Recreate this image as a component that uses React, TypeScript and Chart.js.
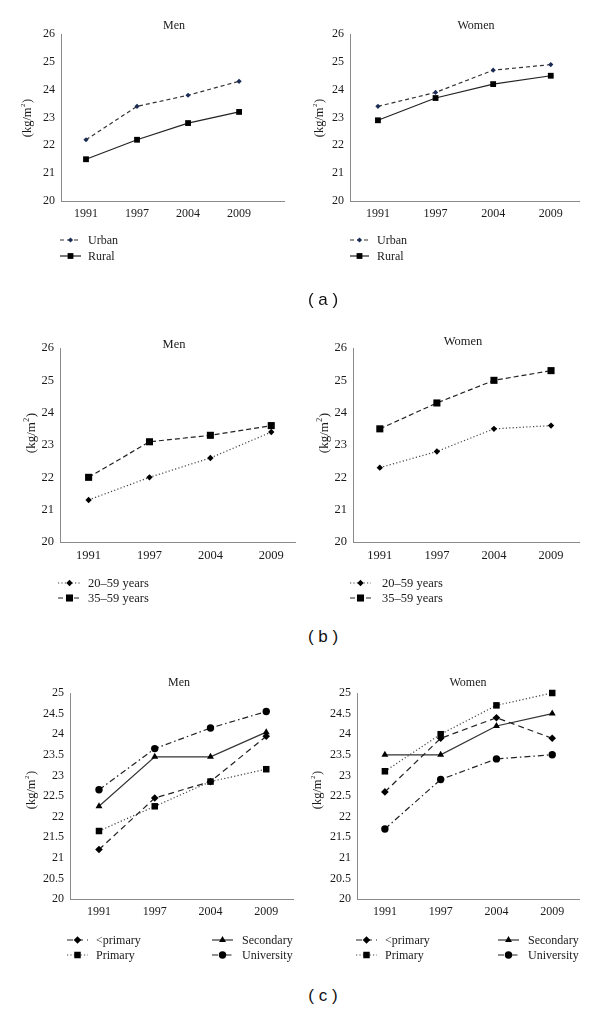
import React, { useEffect, useRef } from 'react';
import { Chart, registerables } from 'chart.js';

Chart.register(...registerables);

// ---------- data ----------
const YEARS = ['1991', '1997', '2004', '2009'];

const menUrban = [22.2, 23.4, 23.8, 24.3];
const menRural = [21.5, 22.2, 22.8, 23.2];
const womenUrban = [23.4, 23.9, 24.7, 24.9];
const womenRural = [22.9, 23.7, 24.2, 24.5];

const men20to59 = [21.3, 22.0, 22.6, 23.4];
const men35to59 = [22.0, 23.1, 23.3, 23.6];
const women20to59 = [22.3, 22.8, 23.5, 23.6];
const women35to59 = [23.5, 24.3, 25.0, 25.3];

const menLessPrimary = [21.2, 22.45, 22.85, 23.95];
const menPrimary = [21.65, 22.25, 22.85, 23.15];
const menSecondary = [22.25, 23.45, 23.45, 24.05];
const menUniversity = [22.65, 23.65, 24.15, 24.55];
const womenLessPrimary = [22.6, 23.9, 24.4, 23.9];
const womenPrimary = [23.1, 24.0, 24.7, 25.0];
const womenSecondary = [23.5, 23.5, 24.2, 24.5];
const womenUniversity = [21.7, 22.9, 23.4, 23.5];

const LABELS_A = ['Urban', 'Rural'];
const LABELS_B = ['20–59 years', '35–59 years'];
const LABELS_C = ['<primary', 'Primary', 'Secondary', 'University'];

// ---------- styles ----------
const SERIF = '"Liberation Serif", "DejaVu Serif", "Times New Roman", serif';
const AXIS_COLOR = '#8a8a8a';
const TEXT_COLOR = '#1a1a1a';

type Style = { dash: number[]; point: string; r: number; color: string; line: string };
const ST_URBAN: Style = { dash: [4, 3], point: 'rectRot', r: 2.6, color: '#1c2d55', line: '#333' };
const ST_RURAL: Style = { dash: [], point: 'rect', r: 4.1, color: '#000', line: '#222' };
const ST_B20: Style = { dash: [1.2, 2.2], point: 'rectRot', r: 3.2, color: '#000', line: '#444' };
const ST_B35: Style = { dash: [5, 3], point: 'rect', r: 5.0, color: '#000', line: '#222' };
const ST_CLP: Style = { dash: [6, 4], point: 'rectRot', r: 3.8, color: '#000', line: '#222' };
const ST_CPR: Style = { dash: [1.2, 2.2], point: 'rect', r: 4.6, color: '#000', line: '#444' };
const ST_CSE: Style = { dash: [], point: 'triangle', r: 4.0, color: '#000', line: '#333' };
const ST_CUN: Style = { dash: [6, 3, 1.5, 3], point: 'circle', r: 3.7, color: '#000', line: '#222' };

type Series = { label: string; data: number[]; style: Style };
type LegendItem = { idx: number; x1: number; x2: number; tx: number; y: number };
type Panel = {
  left: number; top: number; width: number; height: number;
  axisX: number; plotTop: number; plotBottom: number; plotRight: number;
  xMin: number; xMax: number; yMin: number; yMax: number; yStep: number;
  title: string; titleX: number; titleY: number;
  ylX: number; ylY: number;
  fontSize: number;
  series: Series[];
  legend: LegendItem[];
};

const X_AXIS_H = 22;

const panels: Panel[] = [
  {
    left: 0, top: 0, width: 300, height: 280,
    axisX: 61, plotTop: 34, plotBottom: 201, plotRight: 284,
    xMin: -0.49, xMax: 3.88, yMin: 20, yMax: 26, yStep: 1,
    title: 'Men', titleX: 174, titleY: 26, ylX: 28, ylY: 118, fontSize: 12,
    series: [
      { label: LABELS_A[0], data: menUrban, style: ST_URBAN },
      { label: LABELS_A[1], data: menRural, style: ST_RURAL },
    ],
    legend: [
      { idx: 0, x1: 60, x2: 81, tx: 88, y: 240 },
      { idx: 1, x1: 60, x2: 81, tx: 88, y: 256 },
    ],
  },
  {
    left: 300, top: 0, width: 300, height: 280,
    axisX: 350, plotTop: 34, plotBottom: 201, plotRight: 579,
    xMin: -0.485, xMax: 3.49, yMin: 20, yMax: 26, yStep: 1,
    title: 'Women', titleX: 476, titleY: 26, ylX: 320, ylY: 118, fontSize: 12,
    series: [
      { label: LABELS_A[0], data: womenUrban, style: ST_URBAN },
      { label: LABELS_A[1], data: womenRural, style: ST_RURAL },
    ],
    legend: [
      { idx: 0, x1: 350, x2: 369, tx: 377, y: 240 },
      { idx: 1, x1: 350, x2: 369, tx: 377, y: 256 },
    ],
  },
  {
    left: 0, top: 310, width: 300, height: 310,
    axisX: 60, plotTop: 348, plotBottom: 542, plotRight: 297,
    xMin: -0.47, xMax: 3.39, yMin: 20, yMax: 26, yStep: 1,
    title: 'Men', titleX: 174, titleY: 345, ylX: 32, ylY: 433, fontSize: 12.5,
    series: [
      { label: LABELS_B[0], data: men20to59, style: ST_B20 },
      { label: LABELS_B[1], data: men35to59, style: ST_B35 },
    ],
    legend: [
      { idx: 0, x1: 58, x2: 81, tx: 88, y: 583 },
      { idx: 1, x1: 58, x2: 81, tx: 88, y: 598 },
    ],
  },
  {
    left: 300, top: 310, width: 300, height: 310,
    axisX: 353, plotTop: 348, plotBottom: 542, plotRight: 579,
    xMin: -0.47, xMax: 3.49, yMin: 20, yMax: 26, yStep: 1,
    title: 'Women', titleX: 463, titleY: 342, ylX: 325, ylY: 433, fontSize: 12.5,
    series: [
      { label: LABELS_B[0], data: women20to59, style: ST_B20 },
      { label: LABELS_B[1], data: women35to59, style: ST_B35 },
    ],
    legend: [
      { idx: 0, x1: 350, x2: 371, tx: 382, y: 583 },
      { idx: 1, x1: 350, x2: 371, tx: 382, y: 598 },
    ],
  },
  {
    left: 0, top: 650, width: 300, height: 330,
    axisX: 70, plotTop: 693, plotBottom: 899, plotRight: 293,
    xMin: -0.52, xMax: 3.48, yMin: 20, yMax: 25, yStep: 0.5,
    title: 'Men', titleX: 179, titleY: 683, ylX: 32, ylY: 790, fontSize: 12,
    series: [
      { label: LABELS_C[0], data: menLessPrimary, style: ST_CLP },
      { label: LABELS_C[1], data: menPrimary, style: ST_CPR },
      { label: LABELS_C[2], data: menSecondary, style: ST_CSE },
      { label: LABELS_C[3], data: menUniversity, style: ST_CUN },
    ],
    legend: [
      { idx: 0, x1: 67, x2: 88, tx: 96, y: 940 },
      { idx: 1, x1: 67, x2: 88, tx: 96, y: 955 },
      { idx: 2, x1: 212, x2: 233, tx: 242, y: 940 },
      { idx: 3, x1: 212, x2: 233, tx: 242, y: 955 },
    ],
  },
  {
    left: 300, top: 650, width: 300, height: 330,
    axisX: 357, plotTop: 693, plotBottom: 899, plotRight: 579,
    xMin: -0.5, xMax: 3.48, yMin: 20, yMax: 25, yStep: 0.5,
    title: 'Women', titleX: 468, titleY: 683, ylX: 318, ylY: 790, fontSize: 12,
    series: [
      { label: LABELS_C[0], data: womenLessPrimary, style: ST_CLP },
      { label: LABELS_C[1], data: womenPrimary, style: ST_CPR },
      { label: LABELS_C[2], data: womenSecondary, style: ST_CSE },
      { label: LABELS_C[3], data: womenUniversity, style: ST_CUN },
    ],
    legend: [
      { idx: 0, x1: 356, x2: 377, tx: 385, y: 940 },
      { idx: 1, x1: 356, x2: 377, tx: 385, y: 955 },
      { idx: 2, x1: 498, x2: 519, tx: 528, y: 940 },
      { idx: 3, x1: 498, x2: 519, tx: 528, y: 955 },
    ],
  },
];

function drawMarker(ctx: CanvasRenderingContext2D, st: Style, x: number, y: number) {
  const r = st.r;
  ctx.save();
  ctx.setLineDash([]);
  ctx.fillStyle = st.color;
  ctx.beginPath();
  if (st.point === 'rectRot') {
    ctx.moveTo(x, y - r);
    ctx.lineTo(x + r, y);
    ctx.lineTo(x, y + r);
    ctx.lineTo(x - r, y);
    ctx.closePath();
  } else if (st.point === 'rect') {
    const s = r * Math.SQRT1_2;
    ctx.rect(x - s, y - s, 2 * s, 2 * s);
  } else if (st.point === 'triangle') {
    ctx.moveTo(x, y - r);
    ctx.lineTo(x + 0.866 * r, y + 0.5 * r);
    ctx.lineTo(x - 0.866 * r, y + 0.5 * r);
    ctx.closePath();
  } else {
    ctx.arc(x, y, r, 0, Math.PI * 2);
  }
  ctx.fill();
  ctx.restore();
}

function PanelChart({ p }: { p: Panel }) {
  const ref = useRef<HTMLCanvasElement | null>(null);
  useEffect(() => {
    if (!ref.current) return;
    const font = { family: SERIF, size: p.fontSize };
    const decor = {
      id: 'decor',
      afterDraw(chart: any) {
        const ctx: CanvasRenderingContext2D = chart.ctx;
        ctx.save();
        ctx.translate(-p.left, -p.top);
        ctx.fillStyle = TEXT_COLOR;
        // title
        ctx.font = `${p.fontSize}px ${SERIF}`;
        ctx.textAlign = 'center';
        ctx.textBaseline = 'middle';
        ctx.fillText(p.title, p.titleX, p.titleY);
        // y axis label (kg/m²)
        ctx.save();
        ctx.translate(p.ylX, p.ylY);
        ctx.rotate(-Math.PI / 2);
        const big = `${p.fontSize + 0.5}px ${SERIF}`;
        const small = `${Math.round(p.fontSize * 0.62)}px ${SERIF}`;
        ctx.font = big;
        const a = '(kg/m';
        const c = ')';
        const wa = ctx.measureText(a).width;
        const wc = ctx.measureText(c).width;
        ctx.font = small;
        const wb = ctx.measureText('2').width;
        const total = wa + wb + wc + 1;
        let x = -total / 2;
        ctx.textAlign = 'left';
        ctx.font = big;
        ctx.fillText(a, x, 0);
        x += wa;
        ctx.font = small;
        ctx.fillText('2', x + 0.5, -5);
        x += wb + 1;
        ctx.font = big;
        ctx.fillText(c, x, 0);
        ctx.restore();
        // legend
        ctx.font = `${p.fontSize}px ${SERIF}`;
        ctx.textAlign = 'left';
        ctx.textBaseline = 'middle';
        p.legend.forEach((item) => {
          const s = p.series[item.idx];
          ctx.save();
          ctx.strokeStyle = s.style.line;
          ctx.lineWidth = 1.2;
          ctx.setLineDash(s.style.dash);
          ctx.beginPath();
          ctx.moveTo(item.x1, item.y);
          ctx.lineTo(item.x2, item.y);
          ctx.stroke();
          ctx.restore();
          drawMarker(ctx, s.style, (item.x1 + item.x2) / 2, item.y);
          ctx.fillStyle = TEXT_COLOR;
          ctx.fillText(s.label, item.tx, item.y + 0.5);
        });
        ctx.restore();
      },
    };
    const chart = new Chart(ref.current, {
      type: 'line',
      data: {
        datasets: p.series.map((s) => ({
          label: s.label,
          data: s.data.map((v, i) => ({ x: i, y: v })),
          borderColor: s.style.line,
          borderWidth: 1.2,
          borderDash: s.style.dash,
          pointStyle: s.style.point as any,
          pointRadius: s.style.r,
          pointBackgroundColor: s.style.color,
          pointBorderColor: s.style.color,
          pointBorderWidth: 0,
          tension: 0,
          fill: false,
          clip: false as any,
        })),
      },
      options: {
        animation: false,
        responsive: false,
        maintainAspectRatio: false,
        devicePixelRatio: 1,
        layout: {
          padding: {
            left: 0,
            top: p.plotTop - p.top,
            right: p.left + p.width - p.plotRight,
            bottom: p.top + p.height - p.plotBottom - X_AXIS_H,
          },
        },
        plugins: {
          legend: { display: false },
          title: { display: false },
          tooltip: { enabled: false },
        },
        scales: {
          x: {
            type: 'linear',
            min: p.xMin,
            max: p.xMax,
            afterBuildTicks: (s: any) => {
              s.ticks = YEARS.map((_, i) => ({ value: i }));
            },
            afterFit: (s: any) => {
              s.height = X_AXIS_H;
            },
            grid: { display: false, drawTicks: false },
            border: { display: true, color: AXIS_COLOR, width: 1 },
            ticks: {
              autoSkip: false,
              maxRotation: 0,
              padding: 6,
              color: TEXT_COLOR,
              font,
              callback: (v: any) => YEARS[Math.round(Number(v))] ?? '',
            },
          },
          y: {
            type: 'linear',
            min: p.yMin,
            max: p.yMax,
            afterFit: (s: any) => {
              s.width = p.axisX - p.left;
            },
            grid: { display: false, drawTicks: false },
            border: { display: true, color: AXIS_COLOR, width: 1 },
            ticks: {
              stepSize: p.yStep,
              padding: 6,
              color: TEXT_COLOR,
              font,
              callback: (v: any) => String(Math.round(Number(v) * 10) / 10),
            },
          },
        },
      },
      plugins: [decor],
    });
    return () => chart.destroy();
  }, [p]);
  return (
    <canvas
      ref={ref}
      width={p.width}
      height={p.height}
      style={{ position: 'absolute', left: p.left, top: p.top, width: p.width, height: p.height }}
    />
  );
}

const PANEL_TAGS = [
  { text: '( a )', y: 300 },
  { text: '( b )', y: 637 },
  { text: '( c )', y: 996 },
];

export default function App() {
  return (
    <div style={{ position: 'absolute', left: 0, top: 0, width: 600, height: 1014, background: '#fff', overflow: 'hidden' }}>
      {panels.map((p, i) => (
        <PanelChart key={i} p={p} />
      ))}
      {PANEL_TAGS.map((t) => (
        <div
          key={t.text}
          style={{
            position: 'absolute',
            left: 283,
            top: t.y - 12,
            width: 80,
            height: 24,
            lineHeight: '24px',
            textAlign: 'center',
            fontFamily: '"Liberation Sans", Arial, sans-serif',
            fontSize: 17,
            color: '#111',
            whiteSpace: 'pre',
          }}
        >
          {t.text}
        </div>
      ))}
    </div>
  );
}
